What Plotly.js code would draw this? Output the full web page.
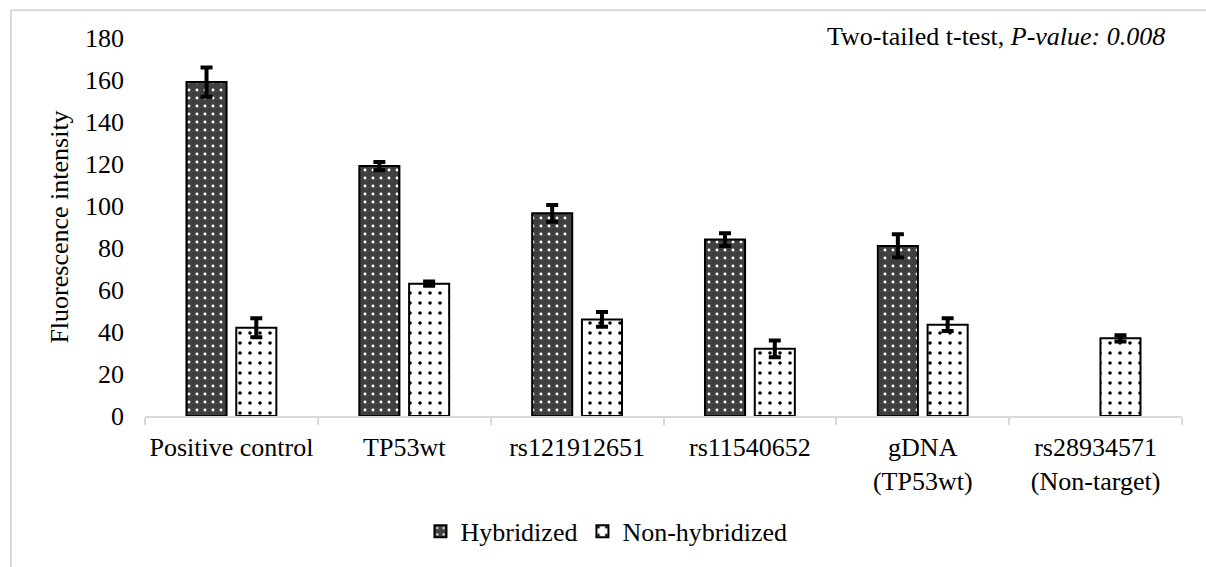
<!DOCTYPE html>
<html>
<head>
<meta charset="utf-8">
<script src="https://cdn.plot.ly/plotly-3.0.1.min.js"></script>
<style>
html,body{margin:0;padding:0;background:#fff;}
#chart{width:1206px;height:567px;}
</style>
</head>
<body>
<div id="chart"></div>
<script>
const categories = ["Positive control", "TP53wt", "rs121912651", "rs11540652", "gDNA<br>(TP53wt)", "rs28934571<br>(Non-target)"];
const hybridized = [159, 119, 96.5, 84, 81, null];
const hybridizedErr = [7, 2, 4, 3, 5.5, 0];
const nonHybridized = [42, 63, 46, 32, 43.5, 37];
const nonHybridizedErr = [4.5, 1, 3.5, 4, 3, 1.5];
const yTicks = [0, 20, 40, 60, 80, 100, 120, 140, 160, 180];

const FONT = "'Liberation Serif', 'Times New Roman', serif";

const traces = [
  {
    type: "bar", name: "Hybridized", x: categories, y: hybridized,
    marker: {
      color: "#404040",
      line: {color: "#000", width: 2},
      pattern: {shape: ".", fgcolor: "#ffffff", bgcolor: "#404040", size: 8, solidity: 0.1, fillmode: "replace"}
    },
    error_y: {type: "data", array: hybridizedErr, visible: true, color: "#000", thickness: 4, width: 6}
  },
  {
    type: "bar", name: "Non-hybridized", x: categories, y: nonHybridized,
    marker: {
      color: "#ffffff",
      line: {color: "#000", width: 2},
      pattern: {shape: ".", fgcolor: "#000000", bgcolor: "#ffffff", size: 10, solidity: 0.1, fillmode: "replace"}
    },
    error_y: {type: "data", array: nonHybridizedErr, visible: true, color: "#000", thickness: 4, width: 6}
  }
];

const layout = {
  width: 1206, height: 567,
  margin: {l: 145, r: 24, t: 38, b: 147},
  paper_bgcolor: "#fff", plot_bgcolor: "#fff",
  font: {family: FONT, size: 26, color: "#000"},
  barmode: "group",
  bargap: 0.424,
  bargroupgap: 0.195,
  showlegend: true,
  legend: {orientation: "h", x: 0.445, xanchor: "center", y: -0.305, yanchor: "middle", font: {size: 26, family: FONT}, traceorder: "normal"},
  xaxis: {
    type: "category",
    showline: true, linecolor: "#d9d9d9", linewidth: 2,
    ticks: "outside", tickson: "boundaries", ticklen: 7, tickcolor: "#d9d9d9", tickwidth: 2,
    showgrid: false, zeroline: false, tickangle: 0,
    ticklabelstandoff: 7,
    tickfont: {size: 26, family: FONT}
  },
  yaxis: {
    range: [0, 180], tickvals: yTicks, ticktext: yTicks.map(String),
    showgrid: false, zeroline: false, showline: false, ticks: "",
    ticklabelstandoff: 20,
    tickfont: {size: 26, family: FONT},
    title: {text: "Fluorescence intensity", font: {size: 26, family: FONT}, standoff: 8}
  },
  shapes: [
    {type: "rect", xref: "paper", yref: "paper", x0: -0.1292, x1: 1.2, y0: -0.6, y1: 1.0733,
     line: {color: "#d9d9d9", width: 2}, fillcolor: "rgba(0,0,0,0)", layer: "below"}
  ],
  annotations: [
    {xref: "paper", yref: "paper", x: 0.9855, y: 1.005, xanchor: "right", yanchor: "middle", showarrow: false,
     text: "Two-tailed t-test, <i>P-value: 0.008</i>", font: {size: 26, family: FONT, color: "#000"}}
  ]
};

Plotly.newPlot("chart", traces, layout, {displayModeBar: false, staticPlot: true});
</script>
</body>
</html>
